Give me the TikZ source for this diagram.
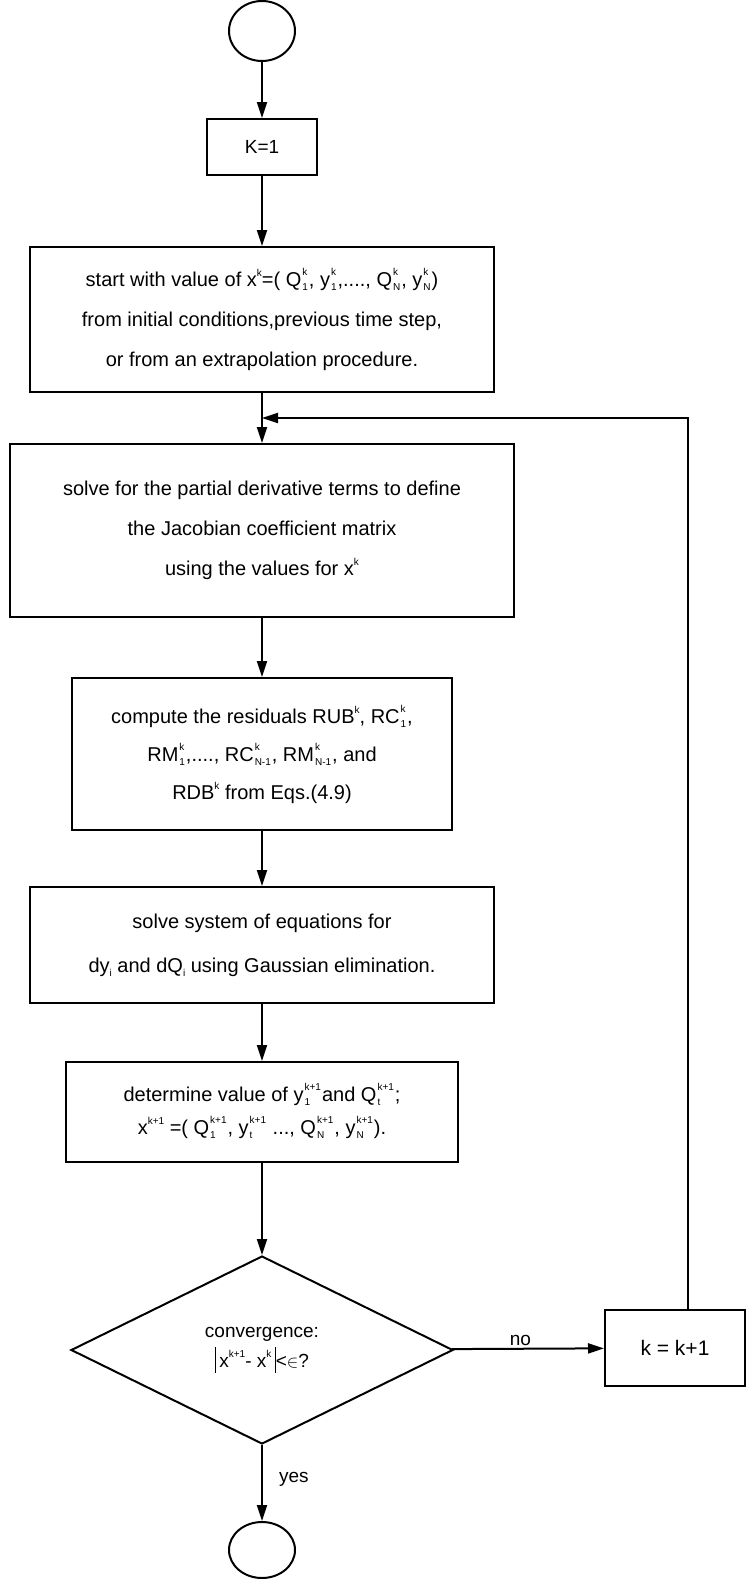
\documentclass[tikz,border=0pt]{standalone}
\usepackage{fontspec}
\setmainfont{Liberation Sans}
\usetikzlibrary{arrows.meta,shapes.geometric}
\newcommand{\scr}{\fontsize{10}{10}\selectfont}
\newcommand{\sps}[1]{\raisebox{10pt}{\scr #1}}
\newcommand{\sbs}[1]{\raisebox{-4pt}{\scr #1}}
\newcommand{\ssp}[2]{\hspace{1pt}\raisebox{-4pt}{\scr\begin{tabular}[b]{@{}l@{}}#2\\[5pt]#1\end{tabular}}\hspace{1pt}}
\newcommand{\absbar}{\raisebox{-0.3em}{\rule{1.3pt}{1.35em}}}
\begin{document}
\begin{tikzpicture}[x=1pt,y=-1pt,line width=2pt,
  box/.style={draw,rectangle,align=center,inner sep=0pt,font=\fontsize{20}{40}\selectfont},
  term/.style={draw,ellipse,inner sep=0pt,minimum width=66pt},
  arr/.style={-{Triangle[length=16pt,width=10pt]}},
  lbl/.style={font=\fontsize{19}{22}\selectfont,inner sep=2pt}]
\useasboundingbox (0,0) rectangle (747,1579);
\node[term,minimum height=60pt] (start) at (262,31) {};
\node[box,minimum width=110pt,minimum height=56pt,font=\fontsize{19}{22}\selectfont] (k1) at (262,147) {K=1};
\node[box,minimum width=464pt,minimum height=145pt] (b3) at (262,319.5)
  {start with value of x\sps{k}=( Q\ssp{1}{k}, y\ssp{1}{k},...., Q\ssp{N}{k}, y\ssp{N}{k})\\
   from initial conditions,previous time step,\\
   or from an extrapolation procedure.};
\node[box,minimum width=504pt,minimum height=173pt] (b4) at (262,530.5)
  {solve for the partial derivative terms to define\\
   the Jacobian coefficient matrix\\
   using the values for x\sps{k}};
\node[box,minimum width=380pt,minimum height=152pt,font=\fontsize{20}{38}\selectfont] (b5) at (262,754)
  {compute the residuals RUB\sps{k}, RC\ssp{1}{k},\\
   RM\ssp{1}{k},...., RC\ssp{N-1}{k}, RM\ssp{N-1}{k}, and\\
   RDB\sps{k} from Eqs.(4.9)};
\node[box,minimum width=464pt,minimum height=116pt,font=\fontsize{20}{44}\selectfont] (b6) at (262,945)
  {solve system of equations for\\
   dy\sbs{i} and dQ\sbs{i} using Gaussian elimination.};
\node[box,minimum width=392pt,minimum height=100pt,font=\fontsize{20}{33}\selectfont] (b7) at (262,1112)
  {determine value of y\ssp{1}{k+1}and Q\ssp{t}{k+1};\\
   x\sps{k+1} =( Q\ssp{1}{k+1}, y\ssp{t}{k+1} ..., Q\ssp{N}{k+1}, y\ssp{N}{k+1}).};
\node[draw,diamond,minimum width=382pt,minimum height=188pt,inner sep=0pt,align=center,
  font=\fontsize{19}{30}\selectfont] (dec) at (262,1350)
  {convergence:\\ \absbar\,x\sps{k+1}- x\sps{k}\,\absbar<$\in$?};
\node[box,minimum width=140pt,minimum height=76pt,font=\fontsize{21}{24}\selectfont] (kb) at (675,1348) {k = k+1};
\node[term,minimum height=56pt] (end) at (262,1550) {};
\coordinate (join) at (262,418);
\coordinate (lx) at (688,0);
\draw[arr] (start) -- (k1);
\draw[arr] (k1) -- (b3);
\draw[arr] (b3) -- (b4);
\draw[arr] (b4) -- (b5);
\draw[arr] (b5) -- (b6);
\draw[arr] (b6) -- (b7);
\draw[arr] (b7) -- (dec);
\draw[arr] (dec) -- node[lbl,above,pos=0.45] {no} (kb);
\draw[arr] (dec) -- node[lbl,right=14pt,pos=0.45] {yes} (end);
\draw[arr] (kb.north -| lx) |- (join);
\end{tikzpicture}
\end{document}
